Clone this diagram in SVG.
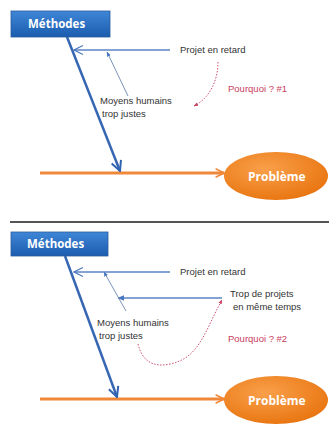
<svg xmlns="http://www.w3.org/2000/svg" width="329" height="424" viewBox="0 0 329 424">
<defs>
<linearGradient id="gBox" x1="0" y1="0" x2="0" y2="1">
<stop offset="0" stop-color="#3f86d6"/><stop offset="1" stop-color="#1b5cae"/>
</linearGradient>
<radialGradient id="gEll" cx="0.4" cy="0.35" r="0.7">
<stop offset="0" stop-color="#f9a04a"/><stop offset="1" stop-color="#e8740f"/>
</radialGradient>
<marker id="aBlue" viewBox="0 0 10 10" refX="9" refY="5" markerWidth="5" markerHeight="5" orient="auto"><path d="M1,1 L9,5 L1,9" fill="none" stroke="#2f62b0" stroke-width="1.6"/></marker>
<marker id="aThin" viewBox="0 0 10 10" refX="9" refY="5" markerWidth="8" markerHeight="8" orient="auto"><path d="M1,1 L9,5 L1,9" fill="none" stroke="#4a78c0" stroke-width="1"/></marker>
<marker id="aSmall" viewBox="0 0 10 10" refX="9" refY="5" markerWidth="5" markerHeight="5" orient="auto"><path d="M0,1 L10,5 L0,9 Z" fill="#4a78c0"/></marker>
<marker id="aOr" viewBox="0 0 10 10" refX="9" refY="5" markerWidth="3.5" markerHeight="3.5" orient="auto"><path d="M1,1 L9,5 L1,9" fill="none" stroke="#f0883a" stroke-width="1.5"/></marker>
<marker id="aRed" viewBox="0 0 10 10" refX="9" refY="5" markerWidth="5" markerHeight="5" orient="auto"><path d="M0,1 L10,5 L0,9 Z" fill="#c84060"/></marker>
</defs>
<style>
.box{fill:url(#gBox);stroke:#2a5a9c;stroke-width:0.8}
.bt{font-family:"Open Sans","Liberation Sans",sans-serif;font-weight:bold;font-size:11.5px;fill:#fff}
.ell{fill:url(#gEll)}
.et{font-family:"Open Sans","Liberation Sans",sans-serif;font-weight:bold;font-size:12px;fill:#fff}
.t{font-family:"Liberation Sans","Arial",sans-serif;font-size:9.5px;fill:#333}
.r{font-family:"Liberation Sans","Arial",sans-serif;font-size:9.5px;fill:#c83c5c}
.spine{stroke:#f0883a;stroke-width:3;fill:none}
.bone{stroke:#3767b3;stroke-width:2.5;fill:none}
.hl{stroke:#5b84c4;stroke-width:1.4;fill:none}
.th{stroke:#7a93b8;stroke-width:1;fill:none}
.rd{stroke:#c84060;stroke-width:0.9;fill:none;stroke-dasharray:1.5 1.5}
</style>
<g id="connectors">
<path class="spine" d="M40,173 L224,173" marker-end="url(#aOr)"/>
<path class="bone" d="M67,37 L120,171" marker-end="url(#aBlue)"/>
<path class="hl" d="M170,50 L74,50" marker-end="url(#aThin)"/>
<path class="th" d="M128,96 L107,52" marker-end="url(#aSmall)"/>
<path class="rd" d="M218,62 C218,80 210,98 194,106" marker-end="url(#aRed)"/>
<path class="spine" d="M40,399 L224,399" marker-end="url(#aOr)"/>
<path class="bone" d="M65,256 L117,397" marker-end="url(#aBlue)"/>
<path class="hl" d="M170,272 L74,272" marker-end="url(#aThin)"/>
<path class="hl" d="M222,298 L118,298" marker-end="url(#aSmall)"/>
<path class="th" d="M126,311 L104,272" marker-end="url(#aSmall)"/>
<path class="rd" d="M138,344 C142,360 152,368 170,364 C200,358 205,330 222,300" marker-end="url(#aRed)"/>
</g>
<line x1="10" y1="222" x2="329" y2="222" stroke="#555" stroke-width="2"/>
<g id="methodes1"><rect class="box" x="11" y="11" width="99" height="26"/><text class="bt" x="28" y="28">Méthodes</text></g>
<g id="probleme1"><ellipse class="ell" cx="276" cy="176" rx="52" ry="24"/><text class="et" x="248" y="181">Problème</text></g>
<g id="projet1"><text class="t" x="180" y="53">Projet en retard</text></g>
<g id="moyens1"><text class="t" x="100" y="104">Moyens humains</text><text class="t" x="102" y="117">trop justes</text></g>
<g id="pourquoi1"><text class="r" x="228" y="92">Pourquoi ? #1</text></g>
<g id="methodes2"><rect class="box" x="11" y="232" width="97" height="24"/><text class="bt" x="27" y="248">Méthodes</text></g>
<g id="probleme2"><ellipse class="ell" cx="276" cy="400" rx="52" ry="24"/><text class="et" x="248" y="405">Problème</text></g>
<g id="projet2"><text class="t" x="180" y="275">Projet en retard</text></g>
<g id="trop2"><text class="t" x="230" y="297">Trop de projets</text><text class="t" x="233" y="310">en même temps</text></g>
<g id="moyens2"><text class="t" x="97" y="326">Moyens humains</text><text class="t" x="99" y="339">trop justes</text></g>
<g id="pourquoi2"><text class="r" x="228" y="342">Pourquoi ? #2</text></g>
</svg>
